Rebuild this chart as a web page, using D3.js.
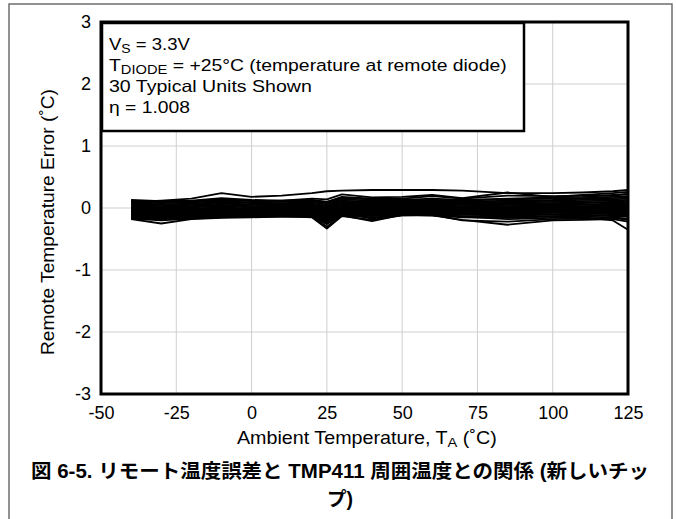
<!DOCTYPE html>
<html><head><meta charset="utf-8">
<script src="https://cdn.jsdelivr.net/npm/d3@7"></script>
<style>
html,body{margin:0;padding:0;background:#fff;}
svg{display:block;font-family:"Liberation Sans",Arial,"Noto Sans CJK JP",sans-serif;}
</style></head>
<body><svg id="c" width="676" height="519"></svg>
<script>
const temps = [-40,-30,-20,-10,0,10,20,25,30,40,50,60,70,85,100,110,120,125];
const xTicks = [-50,-25,0,25,50,75,100,125];
const yTicks = [-3,-2,-1,0,1,2,3];
const u1 =[0.10,0.12,0.15,0.24,0.18,0.20,0.24,0.27,0.28,0.29,0.29,0.29,0.28,0.24,0.24,0.25,0.27,0.29];
const u2 =[0.13,0.11,0.12,0.16,0.13,0.12,0.15,0.14,0.22,0.17,0.18,0.21,0.16,0.25,0.18,0.21,0.24,0.26];
const u3 =[0.11,0.09,0.10,0.13,0.11,0.12,0.13,0.10,0.16,0.14,0.13,0.15,0.13,0.15,0.17,0.18,0.21,0.22];
const u4 =[0.09,0.08,0.09,0.11,0.09,0.10,0.11,0.08,0.14,0.12,0.12,0.13,0.12,0.14,0.15,0.16,0.18,0.19];
const u5 =[0.08,0.06,0.07,0.10,0.08,0.08,0.09,0.06,0.12,0.10,0.11,0.11,0.10,0.12,0.13,0.15,0.16,0.17];
const u6 =[0.06,0.05,0.06,0.08,0.06,0.07,0.07,0.04,0.10,0.09,0.09,0.10,0.09,0.10,0.12,0.13,0.14,0.15];
const u7 =[0.05,0.03,0.05,0.07,0.05,0.05,0.06,0.03,0.09,0.07,0.08,0.08,0.07,0.09,0.10,0.11,0.12,0.13];
const u8 =[0.03,0.02,0.03,0.05,0.03,0.04,0.04,0.01,0.07,0.06,0.06,0.07,0.06,0.07,0.08,0.09,0.10,0.11];
const u9 =[0.02,0.01,0.02,0.04,0.02,0.03,0.03,0.00,0.06,0.04,0.05,0.05,0.05,0.06,0.07,0.08,0.09,0.10];
const u10=[0.01,-0.01,0.01,0.03,0.01,0.01,0.02,-0.02,0.04,0.03,0.04,0.04,0.03,0.05,0.05,0.06,0.07,0.08];
const u11=[-0.01,-0.02,-0.01,0.01,-0.01,0.00,0.00,-0.03,0.03,0.02,0.02,0.03,0.02,0.03,0.04,0.05,0.05,0.06];
const u12=[-0.02,-0.03,-0.02,0.00,-0.02,-0.01,-0.01,-0.05,0.02,0.00,0.01,0.01,0.01,0.02,0.03,0.03,0.04,0.05];
const u13=[-0.03,-0.04,-0.03,-0.01,-0.03,-0.02,-0.02,-0.06,0.00,-0.01,0.00,0.00,0.00,0.01,0.01,0.02,0.03,0.03];
const u14=[-0.04,-0.06,-0.04,-0.02,-0.04,-0.03,-0.04,-0.08,-0.01,-0.02,-0.01,-0.01,-0.01,0.00,0.00,0.01,0.01,0.02];
const u15=[-0.05,-0.07,-0.05,-0.03,-0.05,-0.04,-0.05,-0.10,-0.02,-0.03,-0.02,-0.02,-0.02,-0.01,-0.01,0.00,0.00,0.01];
const u16=[-0.06,-0.08,-0.07,-0.04,-0.06,-0.05,-0.06,-0.11,-0.03,-0.04,-0.03,-0.03,-0.03,-0.02,-0.02,-0.01,-0.01,0.00];
const u17=[-0.07,-0.09,-0.08,-0.05,-0.07,-0.06,-0.07,-0.13,-0.04,-0.05,-0.04,-0.04,-0.04,-0.03,-0.03,-0.02,-0.02,-0.01];
const u18=[-0.08,-0.10,-0.09,-0.06,-0.08,-0.07,-0.08,-0.14,-0.05,-0.06,-0.05,-0.05,-0.05,-0.04,-0.04,-0.03,-0.03,-0.02];
const u19=[-0.09,-0.11,-0.10,-0.07,-0.09,-0.08,-0.09,-0.16,-0.06,-0.07,-0.06,-0.06,-0.06,-0.05,-0.05,-0.04,-0.04,-0.04];
const u20=[-0.10,-0.12,-0.11,-0.08,-0.10,-0.09,-0.10,-0.17,-0.07,-0.08,-0.07,-0.07,-0.07,-0.06,-0.06,-0.05,-0.06,-0.05];
const u21=[-0.11,-0.13,-0.12,-0.09,-0.10,-0.10,-0.11,-0.19,-0.08,-0.09,-0.08,-0.08,-0.08,-0.08,-0.07,-0.07,-0.07,-0.07];
const u22=[-0.12,-0.14,-0.13,-0.10,-0.11,-0.11,-0.12,-0.20,-0.09,-0.10,-0.09,-0.09,-0.09,-0.09,-0.08,-0.08,-0.09,-0.08];
const u23=[-0.13,-0.15,-0.14,-0.11,-0.12,-0.12,-0.12,-0.22,-0.10,-0.11,-0.10,-0.10,-0.10,-0.10,-0.10,-0.09,-0.10,-0.10];
const u24=[-0.14,-0.16,-0.15,-0.12,-0.13,-0.12,-0.13,-0.24,-0.10,-0.12,-0.10,-0.11,-0.11,-0.12,-0.11,-0.11,-0.12,-0.12];
const u25=[-0.15,-0.17,-0.15,-0.13,-0.14,-0.13,-0.13,-0.26,-0.11,-0.13,-0.11,-0.12,-0.13,-0.14,-0.13,-0.12,-0.13,-0.14];
const u26=[-0.16,-0.18,-0.16,-0.14,-0.14,-0.14,-0.14,-0.30,-0.12,-0.15,-0.12,-0.12,-0.15,-0.16,-0.14,-0.14,-0.15,-0.17];
const u27=[-0.17,-0.20,-0.17,-0.15,-0.13,-0.13,-0.15,-0.33,-0.13,-0.19,-0.12,-0.11,-0.20,-0.22,-0.18,-0.17,-0.16,-0.19];
const u28=[-0.18,-0.25,-0.18,-0.16,-0.15,-0.14,-0.14,-0.24,-0.12,-0.21,-0.11,-0.12,-0.19,-0.27,-0.20,-0.19,-0.18,-0.22];
const u29=[-0.15,-0.18,-0.14,-0.12,-0.12,-0.11,-0.11,-0.15,-0.08,-0.17,-0.10,-0.10,-0.14,-0.18,-0.16,-0.15,-0.20,-0.35];
const u30=[0.12,0.10,0.11,0.14,0.12,0.11,0.12,0.10,0.18,0.15,0.15,0.19,0.15,0.20,0.19,0.20,0.20,0.23];
const units = [u1,u2,u3,u4,u5,u6,u7,u8,u9,u10,u11,u12,u13,u14,u15,u16,u17,u18,u19,u20,u21,u22,u23,u24,u25,u26,u27,u28,u29,u30];

const svg = d3.select("#c");
const L=101, R=628, T=22, B=394;
const x = d3.scaleLinear().domain([-50,125]).range([L,R]);
const y = d3.scaleLinear().domain([-3,3]).range([B,T]);

function fitW(sel, w, ax) {
  const bb = sel.node().getBBox();
  const s = w / bb.width;
  sel.attr("transform", `translate(${ax},0) scale(${s},1) translate(${-ax},0)`);
}

svg.append("path").attr("d","M9,519V4H672V519").attr("fill","none").attr("stroke","#6e6e6e").attr("stroke-width",1.5);

const g = svg.append("g");
g.selectAll(".vx").data(xTicks).join("line").attr("x1",d=>x(d)).attr("x2",d=>x(d)).attr("y1",T).attr("y2",B).attr("stroke","#cfcfcf").attr("stroke-width",1);
g.selectAll(".hy").data(yTicks).join("line").attr("y1",d=>y(d)).attr("y2",d=>y(d)).attr("x1",L).attr("x2",R).attr("stroke","#cfcfcf").attr("stroke-width",1);

const line = d3.line().x((d,i)=>x(temps[i])).y(d=>y(d));
svg.append("g").selectAll("path").data(units).join("path").attr("d",line).attr("fill","none").attr("stroke","#000").attr("stroke-width",1.8).attr("stroke-linejoin","round");

svg.append("rect").attr("x",L).attr("y",T).attr("width",R-L).attr("height",B-T).attr("fill","none").attr("stroke","#000").attr("stroke-width",3);

const ax = svg.append("g").attr("transform",`translate(0,${B})`).call(d3.axisBottom(x).tickValues(xTicks).tickSize(0).tickPadding(12).tickFormat(d=>String(d)));
ax.select(".domain").remove();
ax.selectAll("text").attr("font-size",18).attr("fill","#000").attr("font-family","Liberation Sans, Arial, sans-serif");
const ay = svg.append("g").attr("transform",`translate(${L},0)`).call(d3.axisLeft(y).tickValues(yTicks).tickSize(0).tickPadding(10).tickFormat(d=>String(d)));
ay.select(".domain").remove();
ay.selectAll("text").attr("font-size",18).attr("fill","#000").attr("font-family","Liberation Sans, Arial, sans-serif");

const lx=102, ly=23, lw=422, lh=108;
svg.append("rect").attr("x",lx).attr("y",ly).attr("width",lw).attr("height",lh).attr("fill","#fff").attr("stroke","#000").attr("stroke-width",2.5);
const lt = svg.append("g").attr("font-size",16.5).attr("fill","#000");
let t = lt.append("text").attr("x",109).attr("y",50);
t.append("tspan").text("V");
t.append("tspan").attr("font-size",12.5).attr("dy",3).text("S");
t.append("tspan").attr("dy",-3).text(" = 3.3V");
fitW(t, 81, 109);
t = lt.append("text").attr("x",109).attr("y",71);
t.append("tspan").text("T");
t.append("tspan").attr("font-size",12.5).attr("dy",3).text("DIODE");
t.append("tspan").attr("dy",-3).text(" = +25°C (temperature at remote diode)");
fitW(t, 398, 109);
t = lt.append("text").attr("x",109).attr("y",92).text("30 Typical Units Shown");
fitW(t, 203, 109);
t = lt.append("text").attr("x",109).attr("y",113).text("η = 1.008");
fitW(t, 81, 109);

t = svg.append("text").attr("x",237).attr("y",444).attr("font-size",17.5);
t.append("tspan").text("Ambient Temperature, T");
t.append("tspan").attr("font-size",13).attr("dy",3).text("A");
t.append("tspan").attr("dy",-3).text(" (˚C)");
fitW(t, 260, 237);
svg.append("text").attr("transform","translate(54,222) rotate(-90)").attr("text-anchor","middle").attr("font-size",18)
  .attr("textLength",266).attr("lengthAdjust","spacingAndGlyphs").text("Remote Temperature Error (˚C)");

svg.append("text").attr("x",340).attr("y",478).attr("text-anchor","middle").attr("font-size",19.5).attr("font-weight","bold")
  .attr("textLength",618).attr("lengthAdjust","spacingAndGlyphs").text("図 6-5. リモート温度誤差と TMP411 周囲温度との関係 (新しいチッ");
svg.append("text").attr("x",340).attr("y",506).attr("text-anchor","middle").attr("font-size",19.5).attr("font-weight","bold").text("プ)");
</script></body></html>
